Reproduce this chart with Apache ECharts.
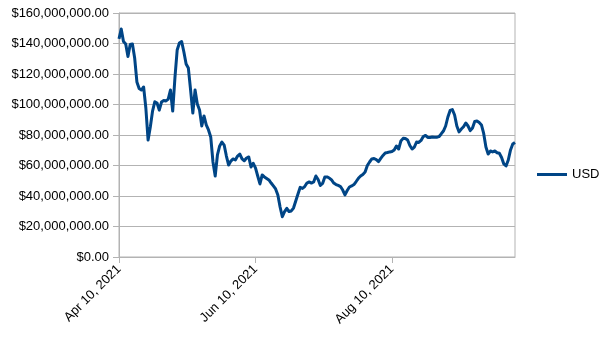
<!DOCTYPE html>
<html>
<head>
<meta charset="utf-8">
<script src="https://cdn.jsdelivr.net/npm/echarts@6/dist/echarts.min.js"></script>
<style>
  html, body { margin: 0; padding: 0; background: #fff; }
  #chart { width: 605px; height: 340px; }
</style>
</head>
<body>
<div id="chart"></div>
<script>
// Daily market capitalisation in USD (millions), starting 10 Apr 2021
const startDate = '2021-04-10';
const seriesName = 'USD';
const usdMillions = [
  143.0, 149.5, 141.3, 139.7, 131.5, 139.3, 139.7, 130.5, 114.8, 110.5,
  109.5, 111.5, 97.7, 76.7, 85.2, 95.7, 101.8, 101.0, 96.3, 101.6,
  102.6, 102.3, 103.6, 109.5, 95.7, 117.4, 135.7, 140.3, 141.3, 134.4,
  126.6, 123.9, 109.5, 94.4, 109.5, 100.3, 96.4, 85.9, 92.5, 86.6,
  83.3, 78.7, 62.3, 53.1, 66.9, 72.8, 75.4, 73.4, 66.2, 60.3,
  62.9, 64.3, 63.6, 66.2, 67.5, 64.3, 63.1, 64.9, 65.6, 59.0,
  61.4, 58.4, 53.1, 47.9, 53.8, 52.5, 51.5, 50.5, 48.5, 46.6,
  44.6, 40.7, 32.8, 26.4, 29.8, 31.9, 29.8, 30.2, 32.1, 36.7,
  41.3, 45.7, 45.0, 46.2, 48.5, 49.2, 48.5, 49.2, 53.1, 50.8,
  46.9, 48.2, 52.5, 52.5, 51.8, 50.5, 48.5, 47.5, 46.9, 46.2,
  43.9, 40.7, 43.6, 45.9, 46.6, 47.5, 49.5, 51.6, 53.1, 54.1,
  55.7, 60.0, 62.3, 64.3, 64.6, 63.9, 62.6, 64.7, 66.6, 68.2,
  68.5, 68.9, 69.2, 70.2, 72.8, 70.8, 76.1, 77.8, 77.7, 76.7,
  73.1, 70.8, 72.1, 75.4, 75.1, 76.4, 79.0, 79.7, 78.4, 78.4,
  78.7, 78.5, 78.5, 78.9, 80.7, 82.6, 85.9, 91.8, 96.1, 96.7,
  93.1, 85.9, 82.0, 83.9, 85.4, 87.9, 85.9, 82.9, 84.6, 88.9,
  89.2, 88.2, 86.6, 81.0, 72.1, 67.5, 69.5, 68.9, 69.5, 68.4,
  68.0, 65.2, 61.0, 59.7, 63.6, 70.2, 74.1, 75.1
];
const yTicks = { min: 0, max: 160000000, step: 20000000 };
const labelEvery = 61; // days between date labels

const monthNames = ['Jan','Feb','Mar','Apr','May','Jun','Jul','Aug','Sep','Oct','Nov','Dec'];

// one category per day
const dayCategories = usdMillions.map((_, i) => {
  const d = new Date(startDate + 'T00:00:00Z');
  d.setUTCDate(d.getUTCDate() + i);
  return monthNames[d.getUTCMonth()] + ' ' + d.getUTCDate() + ', ' + d.getUTCFullYear();
});
const usdValues = usdMillions.map(v => v * 1e6);

const fmtUSD = v => '$' + v.toLocaleString('en-US', { minimumFractionDigits: 2, maximumFractionDigits: 2 });

const FONT = '"Liberation Sans", Arial, sans-serif';
const GRID = '#b3b3b3';
const LINE = '#004586';

const chart = echarts.init(document.getElementById('chart'), null, { renderer: 'canvas' });
chart.setOption({
  animation: false,
  backgroundColor: '#ffffff',
  grid: {
    left: 119, top: 13, right: 90, bottom: 83,
    show: true, borderColor: GRID, borderWidth: 1,
    outerBoundsMode: 'none'
  },
  legend: {
    data: [seriesName],
    orient: 'vertical',
    left: 532, top: 163,
    icon: 'rect',
    itemWidth: 30, itemHeight: 3,
    textStyle: { fontFamily: FONT, fontSize: 13, color: '#000' }
  },
  xAxis: {
    type: 'category',
    data: dayCategories,
    boundaryGap: false,
    axisLine: { lineStyle: { color: GRID, width: 1 } },
    axisTick: { show: true, interval: labelEvery - 1, length: 6, lineStyle: { color: GRID } },
    axisLabel: {
      interval: labelEvery - 1,
      rotate: 45,
      margin: 10,
      fontFamily: FONT, fontSize: 13, color: '#000'
    },
    splitLine: { show: false }
  },
  yAxis: {
    type: 'value',
    min: yTicks.min, max: yTicks.max, interval: yTicks.step,
    axisLine: { show: true, lineStyle: { color: GRID, width: 1 } },
    axisTick: { show: true, length: 6, lineStyle: { color: GRID } },
    axisLabel: {
      margin: 10,
      formatter: fmtUSD,
      fontFamily: FONT, fontSize: 13, color: '#000'
    },
    splitLine: { show: true, lineStyle: { color: GRID, width: 1 } }
  },
  series: [{
    name: seriesName,
    type: 'line',
    data: usdValues,
    showSymbol: false,
    symbol: 'none',
    lineStyle: { color: LINE, width: 3, join: 'round' },
    itemStyle: { color: LINE }
  }]
});
</script>
</body>
</html>
